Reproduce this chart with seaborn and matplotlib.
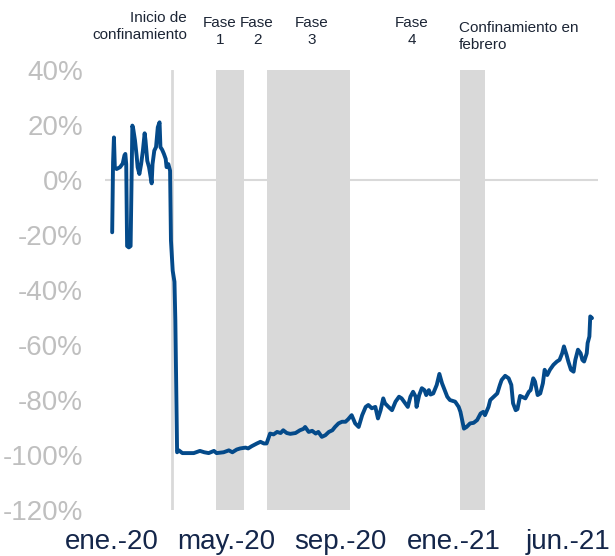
import pandas as pd
import numpy as np
import matplotlib.pyplot as plt
import seaborn as sns

# ---- Data ----
start_date = pd.Timestamp('2020-01-01')

# day number counted from 1 Jan 2020, and variation in %
days = [0, 1, 2, 3, 5, 9, 12, 14, 15, 16, 17, 19, 21, 23, 24, 26, 28, 29, 31, 33,
        35, 37, 38, 40, 42, 45, 46, 48, 50, 52, 54, 55, 57, 59, 61, 62, 64, 66, 67, 69,
        71, 72, 74, 76, 80, 85, 93, 100, 105, 110, 116, 119, 127, 133, 137, 142, 146, 152, 155, 159,
        165, 169, 173, 176, 180, 184, 188, 192, 195, 199, 203, 209, 214, 218, 220, 224, 228, 232, 235, 239,
        243, 247, 251, 254, 258, 262, 266, 269, 273, 277, 281, 285, 289, 292, 296, 300, 303, 306, 309, 311,
        315, 319, 323, 327, 330, 334, 337, 340, 343, 346, 347, 350, 353, 356, 358, 361, 363, 366, 370, 373,
        376, 379, 382, 385, 391, 395, 397, 399, 401, 404, 408, 412, 416, 420, 423, 425, 429, 431, 435, 439,
        442, 444, 448, 452, 455, 457, 460, 462, 465, 471, 475, 477, 480, 482, 485, 488, 491, 493, 496, 499,
        503, 507, 510, 513, 515, 518, 520, 523, 526, 528, 531, 534, 536, 538, 541, 542, 544, 545, 547]

values = [-19, 6.5, 15.5, 4.7, 4, 4.7, 6, 9, 9.5, 5.8, -24, -24.5, -24, 19.8, 18.6, 14.4, 8.4, 4.7, 2.2, 5.8,
          10.7, 17, 14.4, 7, 4.7, -1.2, 5.8, 10.7, 12, 19.2, 21, 12, 11, 9.5, 7.7, 4.7, 5.8, 3.4, -22, -33,
          -37, -51, -99, -98.3, -99.3, -99.3, -99.3, -98.5, -99, -99.3, -98.5, -99.3, -99, -98.3, -99, -98, -97.6, -97.3, -97.6, -96.8,
          -95.8, -95.2, -95.8, -95.8, -92.2, -92.5, -91.6, -92, -91, -92, -92.3, -92, -91, -90.5, -89.8, -91.6, -91.2, -92.2, -91.6, -93.4,
          -92.8, -91.6, -91, -89.8, -88.5, -87.9, -87.9, -87, -85.5, -88.5, -89.8, -85.5, -82.5, -81.8, -83, -82.5, -86.7, -83.7, -79.4, -81.2,
          -82.5, -83.7, -80.6, -78.8, -79.4, -81.2, -82.5, -78.8, -77, -78.8, -82.5, -78.2, -75.7, -76.4, -78.2, -76.4, -78, -77.6, -74.5, -70.5,
          -73.9, -76.4, -78.8, -80, -80.6, -82.5, -84.3, -87.3, -90.4, -89.8, -88.5, -88.3, -87.3, -84.9, -84.3, -85.5, -82.5, -80, -78.8, -77.6,
          -74.5, -72.7, -71.2, -72.1, -74.5, -81.2, -83.7, -83.3, -78.5, -79.4, -77, -76.4, -72.1, -73.3, -78.2, -77.6, -73.9, -69, -70.9, -69,
          -67.2, -66, -65.4, -63, -60.5, -63.6, -66, -69, -69.7, -65.4, -61.7, -63, -65.4, -66, -63, -59.3, -56.9, -49.6, -50.2]

lockdown_start = '2020-03-09'
band_starts = ['2020-04-28', '2020-06-25', '2021-01-31']
band_ends = ['2020-05-30', '2020-09-28', '2021-03-01']

x_tick_dates = ['2020-01-01', '2020-05-10', '2020-09-17', '2021-01-25', '2021-06-04']
x_tick_labels = ['ene.-20', 'may.-20', 'sep.-20', 'ene.-21', 'jun.-21']
y_ticks = [40, 20, 0, -20, -40, -60, -80, -100, -120]
y_tick_labels = ['40%', '20%', '0%', '-20%', '-40%', '-60%', '-80%', '-100%', '-120%']

df = pd.DataFrame({'fecha': start_date + pd.to_timedelta(days, unit='D'),
                   'valor': values})

# ---- Style ----
sns.set_style('white')
plt.rcParams['font.family'] = ['Liberation Sans', 'DejaVu Sans']

fig = plt.figure(figsize=(6.15, 5.56), dpi=100)
ax = fig.add_axes([0.171, 0.0827, 0.8016, 0.7913])

gray = '#D9D9D9'
for s, e in zip(band_starts, band_ends):
    ax.axvspan(pd.Timestamp(s), pd.Timestamp(e), color=gray, lw=0, zorder=0)
ax.axvline(pd.Timestamp(lockdown_start), color=gray, lw=2, zorder=1)
ax.axhline(0, color=gray, lw=1.5, zorder=1)

sns.lineplot(data=df, x='fecha', y='valor', ax=ax, color='#044A8A', lw=2.8, zorder=3)

ax.set_ylim(-120, 40)
ax.set_xlim(pd.Timestamp('2019-12-24'), pd.Timestamp('2021-07-08'))
ax.set_yticks(y_ticks)
ax.set_yticklabels(y_tick_labels, color='#BFBFBF', fontsize=20)
ax.set_xticks(pd.to_datetime(x_tick_dates))
ax.set_xticklabels(x_tick_labels, color='#14264A', fontsize=20)
ax.tick_params(axis='both', length=0)
ax.tick_params(axis='x', pad=14)
ax.tick_params(axis='y', pad=16)
ax.set_xlabel('')
ax.set_ylabel('')
sns.despine(ax=ax, left=True, bottom=True)

# ---- Period labels ----
txt = dict(transform=ax.transAxes, fontsize=11, color='#1C2535', va='center', linespacing=1.25)
ax.text(0.166, 1.099, 'Inicio de\nconfinamiento', ha='right', multialignment='right', **txt)
ax.text(0.233, 1.088, 'Fase\n1', ha='center', multialignment='center', **txt)
ax.text(0.308, 1.088, 'Fase\n2', ha='center', multialignment='center', **txt)
ax.text(0.418, 1.088, 'Fase\n3', ha='center', multialignment='center', **txt)
ax.text(0.622, 1.088, 'Fase\n4', ha='center', multialignment='center', **txt)
ax.text(0.718, 1.076, 'Confinamiento en\nfebrero', ha='left', multialignment='left', **txt)

fig.savefig('out.png', dpi=100)
